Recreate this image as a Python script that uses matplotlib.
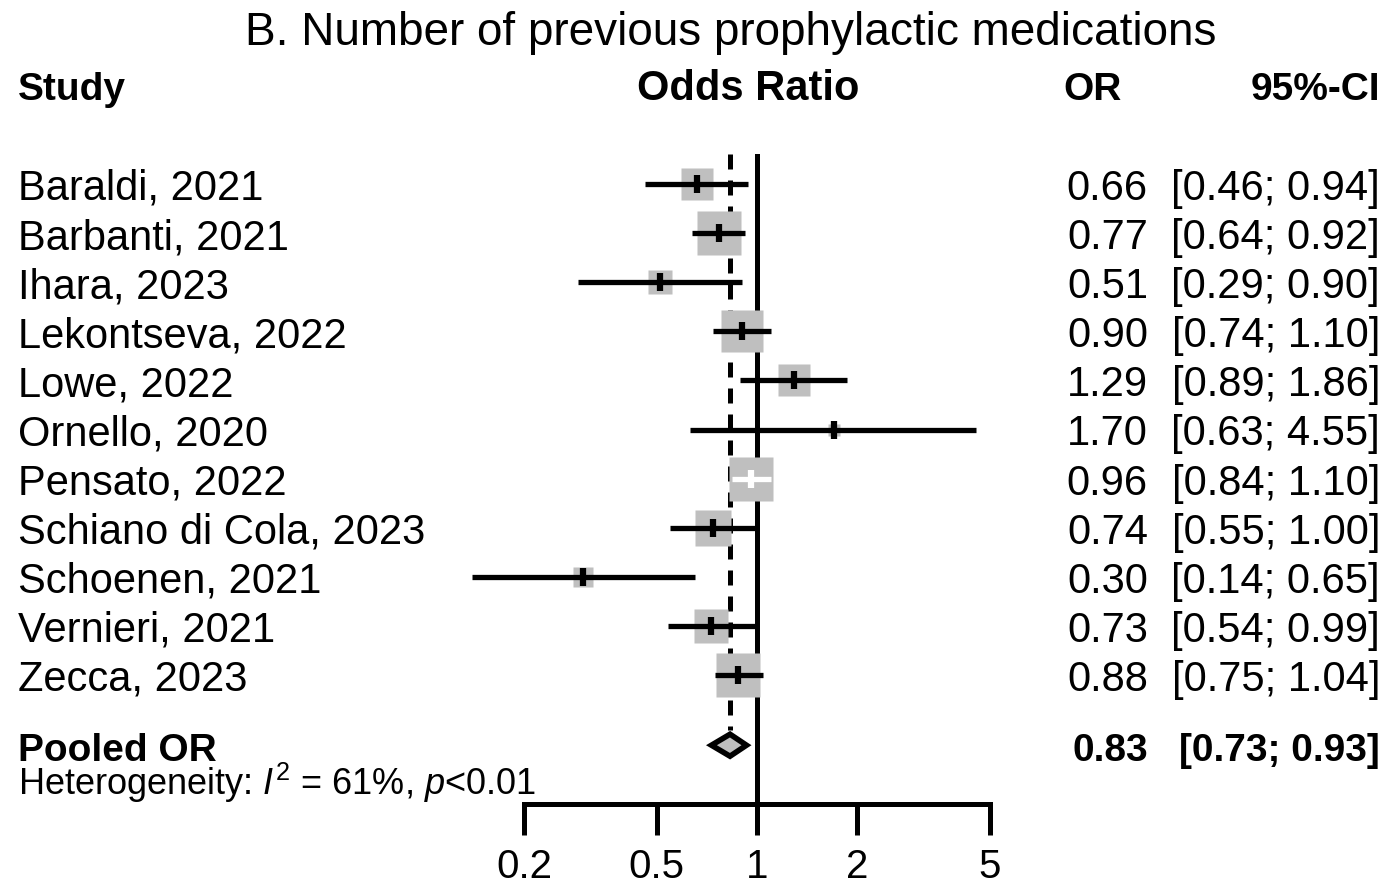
"""Forest plot: number of previous prophylactic medications (pooled OR)"""
import numpy as np
import matplotlib
matplotlib.use('Agg')
import matplotlib.pyplot as plt

plt.rcParams['font.family'] = ['Liberation Sans', 'DejaVu Sans']
plt.rcParams['mathtext.fontset'] = 'custom'
plt.rcParams['mathtext.rm'] = 'Liberation Sans'
plt.rcParams['mathtext.it'] = 'Liberation Sans:italic'

# ---- data ----
studies = ['Baraldi, 2021', 'Barbanti, 2021', 'Ihara, 2023', 'Lekontseva, 2022',
           'Lowe, 2022', 'Ornello, 2020', 'Pensato, 2022', 'Schiano di Cola, 2023',
           'Schoenen, 2021', 'Vernieri, 2021', 'Zecca, 2023']
odds   = [0.66, 0.77, 0.51, 0.90, 1.29, 1.70, 0.96, 0.74, 0.30, 0.73, 0.88]
ci_lo  = [0.46, 0.64, 0.29, 0.74, 0.89, 0.63, 0.84, 0.55, 0.14, 0.54, 0.75]
ci_hi  = [0.94, 0.92, 0.90, 1.10, 1.86, 4.55, 1.10, 1.00, 0.65, 0.99, 1.04]
weights = [7.6, 14.6, 4.4, 13.3, 8.1, 1.0, 14.6, 9.7, 3.2, 9.1, 14.6]   # study weight, %
pooled = (0.83, 0.73, 0.93)
i2, p_het = 61, '<0.01'
xticks = [0.2, 0.5, 1, 2, 5]

W, H, DPI = 1389, 887, 100
fig = plt.figure(figsize=(W / DPI, H / DPI), dpi=DPI)


def fx(x):
    return x / W


def fy(y):
    return 1 - y / H


# pixel layout of the plotting panel
ax_l, ax_r = 400, 1050
ax_t, ax_b = 155, 805
x02, x5 = 524, 990
row0, row_h = 185, 49.1
pooled_row = 11.43

ax = fig.add_axes([fx(ax_l), fy(ax_b), fx(ax_r - ax_l), (ax_b - ax_t) / H])
ax.set_xscale('log')
per_px = (np.log10(5) - np.log10(0.2)) / (x5 - x02)
ax.set_xlim(10 ** (np.log10(0.2) - (x02 - ax_l) * per_px),
            10 ** (np.log10(5) + (ax_r - x5) * per_px))
ax.set_ylim((ax_b - row0) / row_h, -(row0 - ax_t) / row_h)
ax.patch.set_alpha(0)

for s in ['top', 'right', 'left']:
    ax.spines[s].set_visible(False)
ax.spines['bottom'].set_bounds(0.2, 5)
ax.spines['bottom'].set_linewidth(3.6)
ax.set_yticks([])
ax.set_xticks(xticks)
ax.set_xticklabels([f'{t:g}' for t in xticks], fontsize=29)
ax.minorticks_off()
ax.tick_params(axis='x', length=22, width=3.6, pad=9)

# reference line and pooled estimate line
ax.axvline(1, color='black', lw=3.6, zorder=1)
ax.vlines(pooled[0], ax.get_ylim()[1], pooled_row - 0.3, color='black', lw=3.6,
          linestyles=(0, (3, 2.2)), zorder=1)

rows = np.arange(len(studies))
side_px = 11.4 * np.sqrt(weights)
for r, o, lo, hi, s in zip(rows, odds, ci_lo, ci_hi, side_px):
    ax.plot(o, r, marker='s', ms=s * 0.72, color='#bfbfbf', mec='none', zorder=3)
    half = s / 2 * per_px
    inside = np.log10(lo) >= np.log10(o) - half and np.log10(hi) <= np.log10(o) + half
    c = 'white' if inside else 'black'
    ax.plot([lo, hi], [r, r], color=c, lw=3.8, solid_capstyle='butt', zorder=4)
    ax.plot(o, r, marker='|', ms=13, mew=4.5, color=c, zorder=5)

# pooled diamond
dh = 11 / row_h
ax.fill([pooled[1], pooled[0], pooled[2], pooled[0]],
        [pooled_row, pooled_row - dh, pooled_row, pooled_row + dh],
        fc='#bfbfbf', ec='black', lw=4, zorder=4, joinstyle='miter')

# ---- text ----
fig.text(fx(731), fy(45), 'B. Number of previous prophylactic medications',
         fontsize=33, ha='center', va='baseline')
hdr = dict(fontsize=28, fontweight='bold', va='baseline')
fig.text(fx(18), fy(100), 'Study', ha='left', **hdr)
fig.text(fx(748), fy(100), 'Odds Ratio', ha='center', fontsize=30, fontweight='bold',
         va='baseline')
fig.text(fx(1122), fy(100), 'OR', ha='right', **hdr)
fig.text(fx(1380), fy(100), '95%-CI', ha='right', **hdr)

for r, name, o, lo, hi in zip(rows, studies, odds, ci_lo, ci_hi):
    yb = fy(row0 + r * row_h + 15)
    fig.text(fx(18), yb, name, fontsize=30, ha='left', va='baseline')
    fig.text(fx(1148), yb, f'{o:.2f}', fontsize=30, ha='right', va='baseline')
    fig.text(fx(1380), yb, f'[{lo:.2f}; {hi:.2f}]', fontsize=30, ha='right', va='baseline')

yp = fy(row0 + pooled_row * row_h + 15)
fig.text(fx(18), yp, 'Pooled OR', fontsize=28, fontweight='bold', ha='left', va='baseline')
fig.text(fx(1148), yp, f'{pooled[0]:.2f}', fontsize=28, fontweight='bold', ha='right', va='baseline')
fig.text(fx(1380), yp, f'[{pooled[1]:.2f}; {pooled[2]:.2f}]', fontsize=28,
         fontweight='bold', ha='right', va='baseline')
fig.text(fx(18), fy(795), rf'Heterogeneity: $I^2$ = {i2}%, $p${p_het}',
         fontsize=26, ha='left', va='baseline')

fig.savefig('out.png', dpi=DPI)
